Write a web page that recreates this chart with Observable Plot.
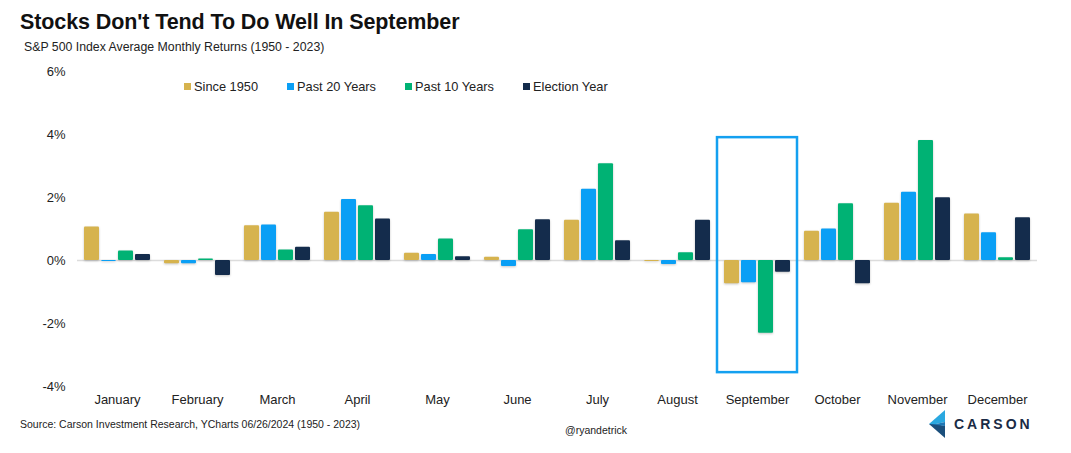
<!DOCTYPE html>
<html>
<head>
<meta charset="utf-8">
<script src="https://cdn.jsdelivr.net/npm/d3@7"></script>
<script src="https://cdn.jsdelivr.net/npm/@observablehq/plot@0.6"></script>
<style>
  html, body { margin: 0; padding: 0; background: #fff; }
  body { width: 1071px; height: 453px; position: relative; overflow: hidden; font-family: "Liberation Sans", Arial, sans-serif; color: #111; }
  #title { position: absolute; left: 20px; top: 10px; font-size: 21.5px; font-weight: bold; letter-spacing: -0.1px; }
  #subtitle { position: absolute; left: 24px; top: 40px; font-size: 12.3px; color: #222; }
  #chart { position: absolute; left: 0; top: 55px; }
  #legend { position: absolute; left: 184px; top: 79px; display: flex; font-size: 12.8px; color: #222; }
  #legend .item { display: flex; align-items: center; margin-right: 29px; }
  #legend .sw { width: 7px; height: 7px; margin-right: 3px; }
  #source { position: absolute; left: 20px; top: 418px; font-size: 10.5px; color: #222; }
  #handle { position: absolute; left: 565px; top: 424px; font-size: 10.5px; color: #222; }
  #logo { position: absolute; left: 925px; top: 408px; }
</style>
</head>
<body>
<div id="title">Stocks Don't Tend To Do Well In September</div>
<div id="subtitle">S&amp;P 500 Index Average Monthly Returns (1950 - 2023)</div>
<div id="chart"></div>
<div id="legend"></div>
<div id="source">Source: Carson Investment Research, YCharts 06/26/2024 (1950 - 2023)</div>
<div id="handle">@ryandetrick</div>
<div id="logo">
  <svg width="115" height="32" viewBox="0 0 115 32">
    <polygon points="4,16 20,2 20,14 11,16" fill="#2aa8e0"/>
    <polygon points="4,16 11,16 20,18 20,30" fill="#1b4f7c"/>
    <polygon points="4,16 11,16 20,14 20,18" fill="#1f77b4"/>
    <text x="29" y="21" font-family="Liberation Sans, Arial, sans-serif" font-weight="bold" font-size="14" letter-spacing="3" fill="#1a2b45">CARSON</text>
  </svg>
</div>
<script>
const months = ["January","February","March","April","May","June","July","August","September","October","November","December"];
const seriesNames = ["Since 1950","Past 20 Years","Past 10 Years","Election Year"];
const since1950    = [1.06, -0.10, 1.10, 1.53, 0.23, 0.10, 1.28, -0.03, -0.74, 0.93, 1.82, 1.48];
const past20Years  = [-0.03, -0.10, 1.13, 1.94, 0.19, -0.19, 2.26, -0.13, -0.71, 1.00, 2.17, 0.88];
const past10Years  = [0.30, 0.05, 0.33, 1.74, 0.68, 0.98, 3.07, 0.25, -2.31, 1.80, 3.81, 0.09];
const electionYear = [0.19, -0.48, 0.42, 1.32, 0.12, 1.29, 0.63, 1.28, -0.37, -0.74, 1.99, 1.36];
const yTicks = [-4, -2, 0, 2, 4, 6];
const colors = ["#d6b34e", "#0a9ff5", "#00b274", "#142c4c"];
const highlightMonth = "September";
const highlightTop = 3.9;
const highlightBottom = -3.56;

const seriesValues = [since1950, past20Years, past10Years, electionYear];
const data = [];
months.forEach((m, i) => {
  seriesNames.forEach((s, j) => data.push({month: m, series: s, value: seriesValues[j][i]}));
});

const chart = Plot.plot({
  width: 1071,
  height: 355,
  marginLeft: 77,
  marginRight: 34,
  marginTop: 16,
  marginBottom: 24,
  style: {fontFamily: "Liberation Sans, Arial, sans-serif", fontSize: "13px", color: "#222", background: "transparent"},
  fx: {domain: months, padding: 0, axis: "bottom", label: null, tickSize: 0, tickPadding: 8},
  x: {domain: seriesNames, paddingInner: 0.14, paddingOuter: 0.36, axis: null},
  y: {domain: [-4, 6], ticks: yTicks, tickFormat: d => d + "%", tickSize: 0, tickPadding: 12, label: null},
  color: {domain: seriesNames, range: colors},
  marks: [
    Plot.ruleY([0], {stroke: "#dcdcdc", strokeWidth: 1.5}),
    Plot.barY(data, {fx: "month", x: "series", y: "value", fill: "series", rx: 1}),
    Plot.rect([{month: highlightMonth}], {fx: "month", y1: () => highlightTop, y2: () => highlightBottom, fill: "none", stroke: "#14a0f0", strokeWidth: 2.5})
  ]
});
document.getElementById("chart").appendChild(chart);
chart.querySelectorAll('g[aria-label="bar"]').forEach(g => g.style.filter = "drop-shadow(0px 1.5px 0.8px rgba(0,0,0,0.22))");

const legend = document.getElementById("legend");
seriesNames.forEach((s, i) => {
  const item = document.createElement("div");
  item.className = "item";
  item.innerHTML = `<span class="sw" style="background:${colors[i]}"></span><span>${s}</span>`;
  legend.appendChild(item);
});
</script>
</body>
</html>
